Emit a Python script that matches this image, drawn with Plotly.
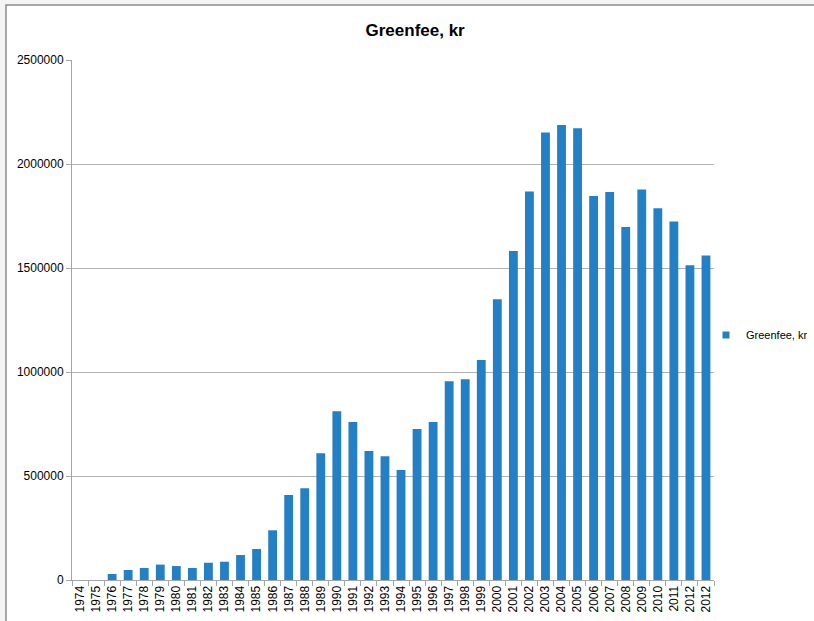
import plotly.graph_objects as go

years = ["1974", "1975", "1976", "1977", "1978", "1979", "1980", "1981", "1982", "1983",
         "1984", "1985", "1986", "1987", "1988", "1989", "1990", "1991", "1992", "1993",
         "1994", "1995", "1996", "1997", "1998", "1999", "2000", "2001", "2002", "2003",
         "2004", "2005", "2006", "2007", "2008", "2009", "2010", "2011", "2012", "2012"]
values = [0, 0, 29000, 48000, 58000, 74000, 67000, 58000, 83000, 88000,
          120000, 149000, 239000, 409000, 441000, 609000, 811000, 760000, 620000, 595000,
          529000, 726000, 760000, 955000, 965000, 1058000, 1350000, 1582000, 1868000, 2152000,
          2188000, 2172000, 1846000, 1865000, 1697000, 1877000, 1787000, 1723000, 1513000, 1560000]
series_name = "Greenfee, kr"
y_ticks = [0, 500000, 1000000, 1500000, 2000000, 2500000]

# unique category ids (the source repeats the label "2012")
cat_ids = [f"c{i}" for i in range(len(years))]

BAR_COLOR = "#2480C4"

fig = go.Figure()
fig.add_trace(go.Bar(
    x=cat_ids, y=values, name=series_name,
    marker=dict(color=BAR_COLOR, line=dict(width=0)),
    showlegend=False,
))
# legend entry drawn as a small square, like the source
fig.add_trace(go.Scatter(
    x=[None], y=[None], mode="markers", name=series_name,
    marker=dict(symbol="square", size=7, color=BAR_COLOR),
    showlegend=True,
))

font_family = "Liberation Sans, Arial, sans-serif"

fig.update_layout(
    width=814, height=621,
    margin=dict(l=72, r=100, t=60, b=41, autoexpand=False),
    paper_bgcolor="#F4F4F4",
    plot_bgcolor="white",
    bargap=0.45,
    font=dict(family=font_family, size=12, color="#000000"),
    title=dict(text="<b>Greenfee, kr</b>", x=0.51, xanchor="center", xref="container",
               y=0.952, yanchor="middle", yref="container",
               font=dict(family=font_family, size=17, color="#000000")),
    legend=dict(x=(706 - 72) / 642, y=0.471, xanchor="left", yanchor="middle",
                font=dict(family=font_family, size=11, color="#000000"),
                bgcolor="rgba(0,0,0,0)", itemwidth=30,
                tracegroupgap=0),
    xaxis=dict(
        type="category",
        tickmode="array", tickvals=cat_ids, ticktext=years,
        tickangle=-90, tickson="boundaries",
        ticks="outside", ticklen=5, tickcolor="#A6A6A6",
        showline=True, linecolor="#A6A6A6", linewidth=1,
        showgrid=False, tickfont=dict(size=12),
    ),
    yaxis=dict(
        range=[0, 2500000], tickvals=y_ticks, ticktext=[str(v) for v in y_ticks],
        ticks="outside", ticklen=5, tickcolor="#A6A6A6",
        showline=True, linecolor="#A6A6A6", linewidth=1,
        showgrid=True, gridcolor="#B3B3B3", gridwidth=1,
        zeroline=False, tickfont=dict(size=12),
    ),
    shapes=[dict(type="rect", xref="paper", yref="paper",
                 x0=(6 - 72) / 642, x1=(830 - 72) / 642,
                 y0=(580 - 640) / 520, y1=(580 - 5) / 520,
                 line=dict(color="#8C8C8C", width=1.5),
                 fillcolor="white", layer="below")],
)

fig.write_html(
    "out.html",
    config={"displayModeBar": False},
    post_script="document.body.style.margin='0';document.body.style.overflow='hidden';",
)
